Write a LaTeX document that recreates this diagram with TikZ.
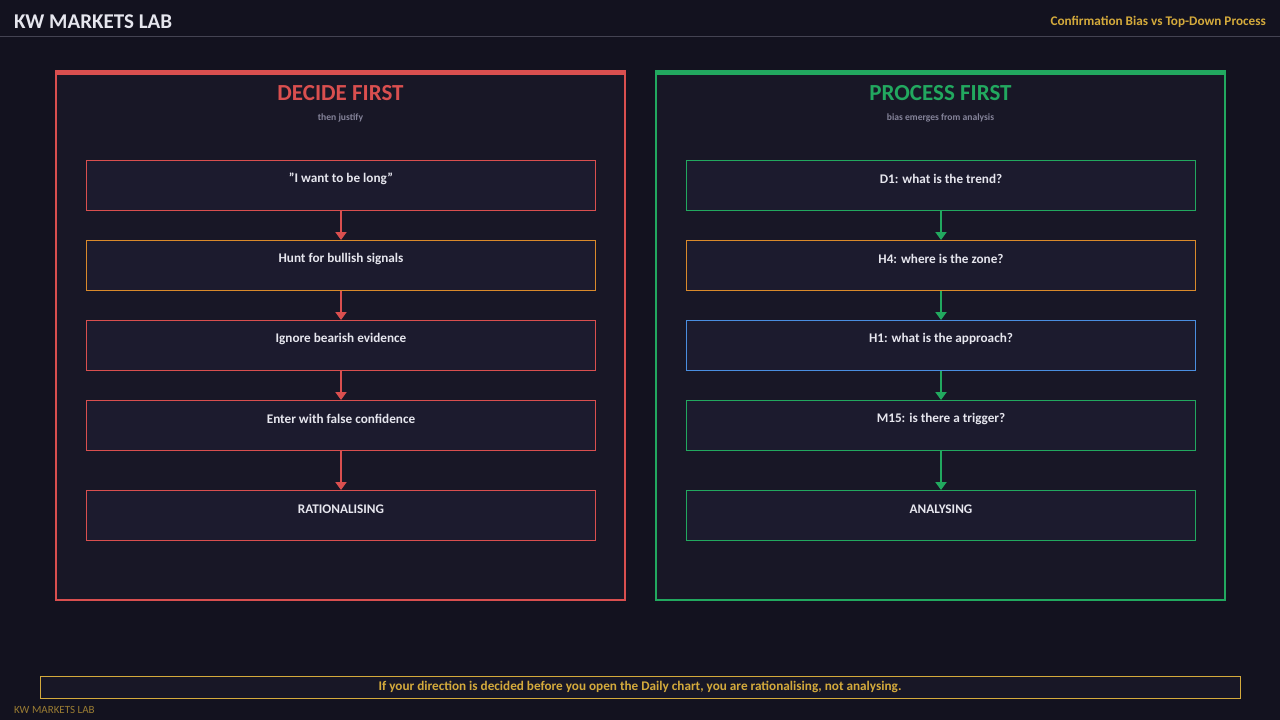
\documentclass[tikz,border=0pt]{standalone}
\usepackage{fontspec}
\setmainfont{Carlito}
\usetikzlibrary{arrows.meta}
\definecolor{bg}{HTML}{13121F}
\definecolor{panelbg}{HTML}{181726}
\definecolor{boxbg}{HTML}{1C1B2E}
\definecolor{cred}{HTML}{D94F4F}
\definecolor{cgreen}{HTML}{22A85F}
\definecolor{corange}{HTML}{D98A2B}
\definecolor{cblue}{HTML}{4A8EE0}
\definecolor{cgold}{HTML}{D4AA3C}
\definecolor{cgray}{HTML}{85849A}
\definecolor{ctext}{HTML}{E6E6EE}
\tikzset{
  stepbox/.style={draw=#1, fill=boxbg, line width=1pt, minimum width=509pt, minimum height=50pt, anchor=north west, inner sep=0pt},
  btxt/.style={text=ctext, font=\fontsize{13.2}{15}\selectfont\bfseries},
  flow/.style={draw=#1, line width=2pt, -{Triangle[length=8pt,width=11pt]}, color=#1},
}
\begin{document}
\begin{tikzpicture}[x=1pt,y=-1pt]
\useasboundingbox (0,0) rectangle (1280,720);
\fill[bg] (0,0) rectangle (1280,720);
\draw[color=boxbg!80!white!90!bg, line width=1pt] (0,36.5) -- (1280,36.5);
\node[anchor=west, text=ctext, font=\fontsize{21}{24}\selectfont\bfseries, inner sep=0pt] (brand) at (14,22) {KW MARKETS LAB};
\node[anchor=east, text=cgold, font=\fontsize{13.2}{15}\selectfont\bfseries, inner sep=0pt] (sub) at (1266,22) {Confirmation Bias vs Top-Down Process};

% panels
\draw[cred, fill=panelbg, line width=2pt] (56,72) rectangle (625,600);
\fill[cred] (55,70) rectangle (626,75);
\draw[cgreen, fill=panelbg, line width=2pt] (656,72) rectangle (1225,600);
\fill[cgreen] (655,70) rectangle (1226,75);

\node[text=cred, font=\fontsize{23}{26}\selectfont\bfseries] (lt) at (340.5,93) {DECIDE FIRST};
\node[text=cgray, font=\fontsize{9.6}{11}\selectfont\bfseries] (ls) at (340.5,118) {then justify};
\node[text=cgreen, font=\fontsize{23}{26}\selectfont\bfseries] (rt) at (940.5,93) {PROCESS FIRST};
\node[text=cgray, font=\fontsize{9.6}{11}\selectfont\bfseries] (rs) at (940.5,118) {bias emerges from analysis};

% left boxes
\node[stepbox=cred] (l1) at (86,160) {};
\node[stepbox=corange] (l2) at (86,240) {};
\node[stepbox=cred] (l3) at (86,320) {};
\node[stepbox=cred] (l4) at (86,400) {};
\node[stepbox=cred] (l5) at (86,490) {};
\node[btxt] at ([yshift=-19pt]l1.north) {"I want to be long"};
\node[btxt] at ([yshift=-19pt]l2.north) {Hunt for bullish signals};
\node[btxt] at ([yshift=-19pt]l3.north) {Ignore bearish evidence};
\node[btxt] at ([yshift=-19pt]l4.north) {Enter with false confidence};
\node[btxt] at ([yshift=-19pt]l5.north) {RATIONALISING};
\draw[flow=cred] (l1.south) -- (l2.north);
\draw[flow=cred] (l2.south) -- (l3.north);
\draw[flow=cred] (l3.south) -- (l4.north);
\draw[flow=cred] (l4.south) -- (l5.north);

% right boxes
\node[stepbox=cgreen] (r1) at (686,160) {};
\node[stepbox=corange] (r2) at (686,240) {};
\node[stepbox=cblue] (r3) at (686,320) {};
\node[stepbox=cgreen] (r4) at (686,400) {};
\node[stepbox=cgreen] (r5) at (686,490) {};
\node[btxt] at ([yshift=-19pt]r1.north) {D1: what is the trend?};
\node[btxt] at ([yshift=-19pt]r2.north) {H4: where is the zone?};
\node[btxt] at ([yshift=-19pt]r3.north) {H1: what is the approach?};
\node[btxt] at ([yshift=-19pt]r4.north) {M15: is there a trigger?};
\node[btxt] at ([yshift=-19pt]r5.north) {ANALYSING};
\draw[flow=cgreen] (r1.south) -- (r2.north);
\draw[flow=cgreen] (r2.south) -- (r3.north);
\draw[flow=cgreen] (r3.south) -- (r4.north);
\draw[flow=cgreen] (r4.south) -- (r5.north);

% footer
\draw[cgold, fill=panelbg, line width=1pt] (40.5,676.5) rectangle (1240.5,698.5);
\node[text=cgold, font=\fontsize{13.2}{15}\selectfont\bfseries] (ft) at (640,687) {If your direction is decided before you open the Daily chart, you are rationalising, not analysing.};
\node[anchor=west, text=cgold!70!bg, font=\fontsize{11}{13}\selectfont, inner sep=0pt] (fb) at (14,710) {KW MARKETS LAB};
\end{tikzpicture}
\end{document}
